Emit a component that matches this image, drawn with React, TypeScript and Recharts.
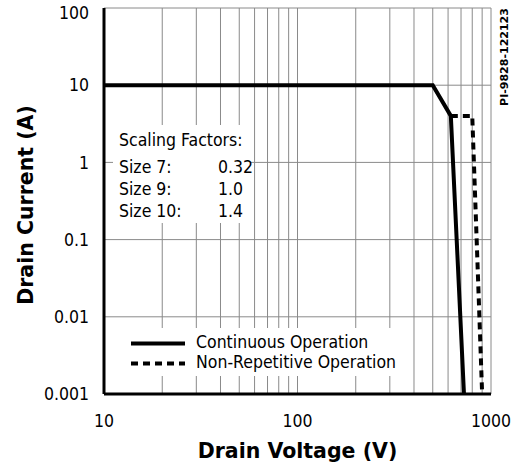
import React from "react";
import { Label, Legend, Line, LineChart, CartesianGrid, XAxis, YAxis } from "recharts";

// drain voltage (V) / drain current (A)
const CONT_V = [10, 500, 620, 725];
const CONT_I = [10, 10, 4, 0.001];
const NONREP_V = [620, 800, 900];
const NONREP_I = [4, 4, 0.001];

const X_TICKS = [10, 20, 30, 40, 50, 60, 70, 80, 90, 100, 200, 300, 400, 500, 600, 700, 800, 900, 1000];
const X_LABELS = [10, 100, 1000];
const Y_TICKS = [0.001, 0.01, 0.1, 1, 10, 100];

const SCALING = [
  { size: "Size 7:", factor: "0.32" },
  { size: "Size 9:", factor: "1.0" },
  { size: "Size 10:", factor: "1.4" },
];

const SERIES = [
  { name: "Continuous Operation", dash: undefined as string | undefined },
  { name: "Non-Repetitive Operation", dash: "7 5" },
];

const contData = CONT_V.map((v, k) => ({ v, i: CONT_I[k] }));
const nonRepData = NONREP_V.map((v, k) => ({ v, i: NONREP_I[k] }));

const SANS = "'DejaVu Sans Condensed', 'DejaVu Sans', sans-serif";
const BOLD = "'DejaVu Sans', Verdana, sans-serif";
const TXT = 17.5;
const GRID = "#8a8a8a";

function XTick({ x, y, payload }: any) {
  if (!X_LABELS.includes(payload.value)) return null;
  return (
    <text x={x} y={y} dy="0.71em" textAnchor="middle" fontFamily={SANS} fontSize={TXT} fill="#000">
      {payload.value}
    </text>
  );
}

function YTick({ x, y, payload }: any) {
  return (
    <text x={x} y={Math.max(y, 13)} dy="0.355em" textAnchor="end" fontFamily={SANS} fontSize={TXT} fill="#000">
      {String(payload.value)}
    </text>
  );
}

function LegendBox() {
  return (
    <div style={{ background: "#fff", width: 292, height: 48, paddingTop: 4, boxSizing: "border-box" }}>
      {SERIES.map((s) => (
        <div key={s.name} style={{ display: "flex", alignItems: "flex-start", height: 20 }}>
          <svg width={65} height={20} style={{ flex: "none", marginLeft: 18 }}>
            <line x1={0} x2={54} y1={11.5} y2={11.5} stroke="#000" strokeWidth={4} strokeDasharray={s.dash} />
          </svg>
          <span style={{ fontFamily: SANS, fontSize: TXT, lineHeight: "20px", color: "#000", whiteSpace: "nowrap" }}>
            {s.name}
          </span>
        </div>
      ))}
    </div>
  );
}

function YTitle({ viewBox }: any) {
  const cy = viewBox.y + 197;
  return (
    <g>
      <text
        x={33}
        y={cy}
        transform={`rotate(-90, 33, ${cy})`}
        textAnchor="middle"
        fontFamily={BOLD}
        fontWeight="bold"
        fontSize={20.5}
        fill="#000"
      >
        Drain Current (A)
      </text>
      <text
        x={508}
        y={57}
        transform="rotate(-90, 508, 57)"
        textAnchor="middle"
        fontFamily={BOLD}
        fontWeight="bold"
        fontSize={11}
        fill="#000"
      >
        PI-9828-122123
      </text>
    </g>
  );
}

export default function App() {
  return (
    <div style={{ position: "absolute", left: 0, top: 0, width: 520, height: 468, background: "#fff" }}>
      <LineChart width={520} height={468} margin={{ top: 8, right: 29, bottom: 44, left: 44 }}>
        <CartesianGrid stroke={GRID} strokeWidth={1} />
        <XAxis
          dataKey="v"
          type="number"
          scale="log"
          domain={[10, 1000]}
          ticks={X_TICKS}
          interval={0}
          allowDataOverflow
          height={30}
          tickLine={false}
          tickMargin={15}
          tick={<XTick />}
          axisLine={{ stroke: "#000", strokeWidth: 3 }}
        >
          <Label
            content={({ viewBox }: any) => (
              <text
                x={viewBox.x + viewBox.width / 2}
                y={viewBox.y + 64}
                textAnchor="middle"
                fontFamily={BOLD}
                fontWeight="bold"
                fontSize={20.5}
                fill="#000"
              >
                Drain Voltage (V)
              </text>
            )}
          />
        </XAxis>
        <XAxis xAxisId="top" orientation="top" type="number" scale="log" domain={[10, 1000]} height={0} tick={false} tickLine={false} axisLine={{ stroke: "#000", strokeWidth: 3 }} />
        <YAxis
          type="number"
          scale="log"
          domain={[0.001, 100]}
          ticks={Y_TICKS}
          interval={0}
          allowDataOverflow
          width={60}
          tickLine={false}
          tickMargin={9}
          tick={<YTick />}
          axisLine={{ stroke: "#000", strokeWidth: 3 }}
        >
          <Label content={<YTitle />} />
        </YAxis>
        <YAxis yAxisId="right" orientation="right" type="number" scale="log" domain={[0.001, 100]} width={0} tick={false} tickLine={false} axisLine={{ stroke: "#000", strokeWidth: 3 }} />
        <Legend
          layout="vertical"
          align="center"
          verticalAlign="middle"
          content={<LegendBox />}
          wrapperStyle={{ left: 113, top: 328, width: 292, height: 48 }}
        />
        <Line
          data={contData}
          dataKey="i"
          name={SERIES[0].name}
          type="linear"
          stroke="#000"
          strokeWidth={4}
          dot={false}
          isAnimationActive={false}
        />
        <Line
          data={nonRepData}
          dataKey="i"
          name={SERIES[1].name}
          type="linear"
          stroke="#000"
          strokeWidth={4}
          strokeDasharray={SERIES[1].dash}
          dot={false}
          isAnimationActive={false}
        />
      </LineChart>
      <div style={{ position: "absolute", left: 113, top: 125, width: 137, height: 98, background: "#fff" }}>
        <div style={{ position: "absolute", left: 6, top: 3.7, fontFamily: SANS, fontSize: TXT, lineHeight: "22px", whiteSpace: "nowrap" }}>
          Scaling Factors:
        </div>
        {SCALING.map((r, k) => (
          <div key={r.size} style={{ position: "absolute", left: 6, top: 30.7 + k * 22, fontFamily: SANS, fontSize: TXT, lineHeight: "22px", whiteSpace: "nowrap" }}>
            <span>{r.size}</span>
            <span style={{ position: "absolute", left: 99 }}>{r.factor}</span>
          </div>
        ))}
      </div>
    </div>
  );
}
